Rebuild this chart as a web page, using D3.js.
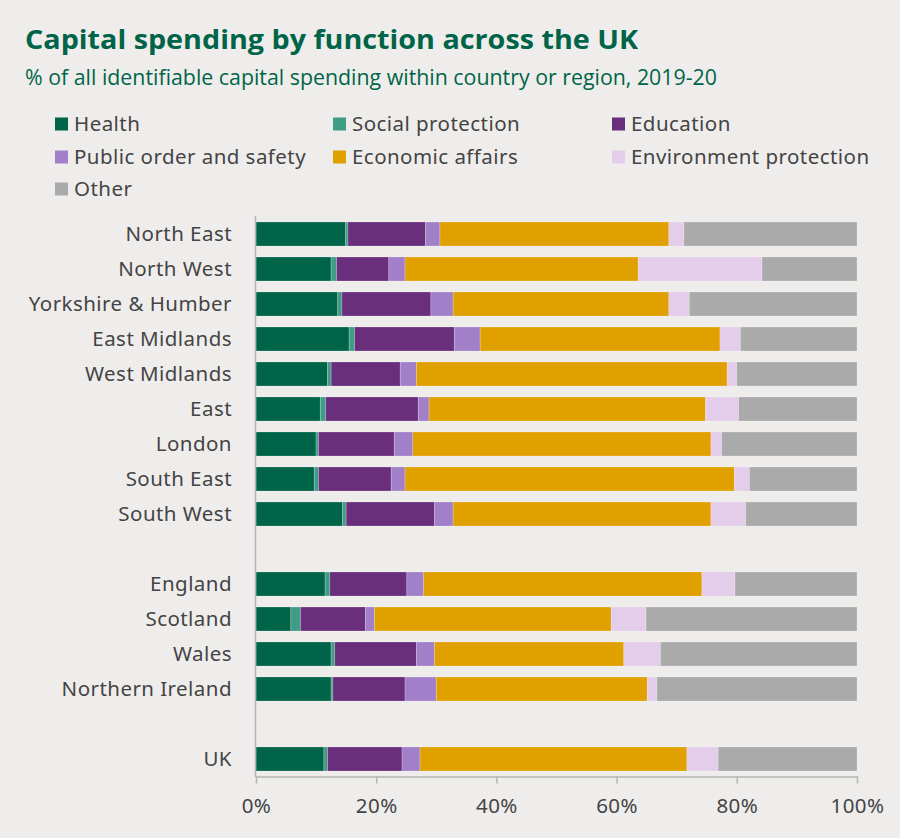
<!DOCTYPE html>
<html>
<head>
<meta charset="utf-8">
<script src="https://cdn.jsdelivr.net/npm/d3@7"></script>
<style>
  html, body { margin: 0; padding: 0; background: #efedeb; }
  svg { display: block; }
</style>
</head>
<body>
<svg id="chart" width="900" height="838"></svg>
<script>
// Rows in display order; empty strings are spacer rows between groups
const categories = [
  "North East", "North West", "Yorkshire & Humber", "East Midlands", "West Midlands",
  "East", "London", "South East", "South West", "",
  "England", "Scotland", "Wales", "Northern Ireland", " ",
  "UK"
];

const seriesNames = [
  "Health", "Social protection", "Education", "Public order and safety",
  "Economic affairs", "Environment protection", "Other"
];

// Share of identifiable capital spending (%), one array per function, in row order
const health        = [14.9, 12.5, 13.6, 15.5, 11.9, 10.7, 10.0,  9.7, 14.4, null, 11.5,  5.8, 12.5, 12.5, null, 11.3];
const socialProt    = [ 0.4,  0.9,  0.7,  0.9,  0.6,  0.9,  0.4,  0.7,  0.6, null,  0.8,  1.6,  0.6,  0.3, null,  0.6];
const education     = [12.9,  8.7, 14.8, 16.6, 11.5, 15.4, 12.6, 12.1, 14.7, null, 12.8, 10.8, 13.6, 12.0, null, 12.4];
const publicOrder   = [ 2.4,  2.7,  3.7,  4.3,  2.7,  1.8,  3.1,  2.3,  3.1, null,  2.8,  1.5,  3.0,  5.2, null,  3.0];
const economic      = [38.1, 38.8, 35.9, 39.9, 51.7, 46.0, 49.6, 54.8, 42.9, null, 46.3, 39.4, 31.5, 35.1, null, 44.4];
const environment   = [ 2.5, 20.6,  3.4,  3.4,  1.6,  5.5,  1.8,  2.5,  5.8, null,  5.5,  5.8,  6.1,  1.6, null,  5.2];
const other         = [28.8, 15.8, 27.9, 19.4, 20.0, 19.7, 22.5, 17.9, 18.5, null, 20.3, 35.1, 32.7, 33.3, null, 23.1];

const tickValues = [0, 20, 40, 60, 80, 100];
const tickLabels = ["0%", "20%", "40%", "60%", "80%", "100%"];

const colors = ["#006548", "#3f9c87", "#692e7c", "#a27fc9", "#e0a000", "#e3cdea", "#aaaaaa"];

const seriesValues = [health, socialProt, education, publicOrder, economic, environment, other];

// Table for d3.stack: one record per non-spacer row
const rows = categories.map((c, i) => {
  const r = { category: c };
  seriesNames.forEach((s, k) => { r[s] = seriesValues[k][i]; });
  return r;
}).filter(r => r.Health !== null);

const svg = d3.select("#chart");
const W = 900, H = 838;

svg.append("rect").attr("width", W).attr("height", H).attr("fill", "#efedeb");

const textFont = "'Noto Sans', 'Open Sans', sans-serif";
const titleFont = "'Open Sans', 'Noto Sans', sans-serif";
const labelSize = 20.5, labelSpacing = 0.45;

// Title and subtitle
svg.append("text")
  .attr("x", 25).attr("y", 49)
  .attr("font-family", titleFont).attr("font-weight", 700)
  .attr("font-size", 27).attr("fill", "#006548")
  .attr("textLength", 613).attr("lengthAdjust", "spacingAndGlyphs")
  .text("Capital spending by function across the UK");

svg.append("text")
  .attr("x", 25).attr("y", 85)
  .attr("font-family", titleFont).attr("font-weight", 400)
  .attr("font-size", 21).attr("fill", "#006548")
  .attr("textLength", 692).attr("lengthAdjust", "spacingAndGlyphs")
  .text("% of all identifiable capital spending within country or region, 2019-20");

// Legend: three columns
const legendCols = [55, 333, 612];
const legendRows = [124, 157, 189];
const legend = svg.append("g");
seriesNames.forEach((name, i) => {
  const gx = legendCols[i % 3], gy = legendRows[Math.floor(i / 3)];
  const g = legend.append("g").attr("transform", `translate(${gx},${gy})`);
  g.append("rect").attr("x", 0).attr("y", -6.5).attr("width", 13).attr("height", 13).attr("fill", colors[i]);
  g.append("text").attr("x", 19).attr("y", 0).attr("dy", "0.35em")
    .attr("font-family", textFont).attr("font-size", labelSize)
    .attr("letter-spacing", labelSpacing).attr("fill", "#444")
    .text(name);
});

// Scales
const x = d3.scaleLinear().domain([0, 100]).range([256, 857]);
const y = d3.scaleBand().domain(categories).range([216.5, 776.5])
  .paddingInner(0.314).paddingOuter(0.157);

const stack = d3.stack().keys(seriesNames);
const stacked = stack(rows);

const bars = svg.append("g");
stacked.forEach((layer, k) => {
  bars.append("g").attr("fill", colors[k])
    .selectAll("rect").data(layer).join("rect")
    .attr("x", d => x(d[0]))
    .attr("width", d => x(d[1]) - x(d[0]))
    .attr("y", d => y(d.data.category))
    .attr("height", y.bandwidth())
    .attr("stroke", "#ffffff").attr("stroke-opacity", 0.25).attr("stroke-width", 0.8);
});

// Category labels
svg.append("g").selectAll("text").data(categories.filter(c => c.trim() !== "")).join("text")
  .attr("x", 232)
  .attr("y", d => y(d) + y.bandwidth() / 2)
  .attr("dy", "0.35em")
  .attr("text-anchor", "end")
  .attr("font-family", textFont).attr("font-size", labelSize)
  .attr("letter-spacing", labelSpacing).attr("fill", "#444")
  .text(d => d);

// Left axis line
svg.append("line")
  .attr("x1", 255.5).attr("x2", 255.5).attr("y1", 216).attr("y2", 777)
  .attr("stroke", "#b5b5b5").attr("stroke-width", 1.5);

// Bottom axis
const xAxis = d3.axisBottom(x).tickValues(tickValues)
  .tickFormat((d, i) => tickLabels[i]).tickSizeInner(7).tickSizeOuter(0).tickPadding(15);

const ax = svg.append("g").attr("transform", "translate(0,776.5)").call(xAxis);
ax.select(".domain").attr("stroke", "#b5b5b5").attr("stroke-width", 1.5);
ax.selectAll(".tick line").attr("stroke", "#b5b5b5").attr("stroke-width", 1.5);
ax.selectAll(".tick text")
  .attr("font-family", textFont).attr("font-size", labelSize)
  .attr("letter-spacing", labelSpacing).attr("fill", "#444");
</script>
</body>
</html>
